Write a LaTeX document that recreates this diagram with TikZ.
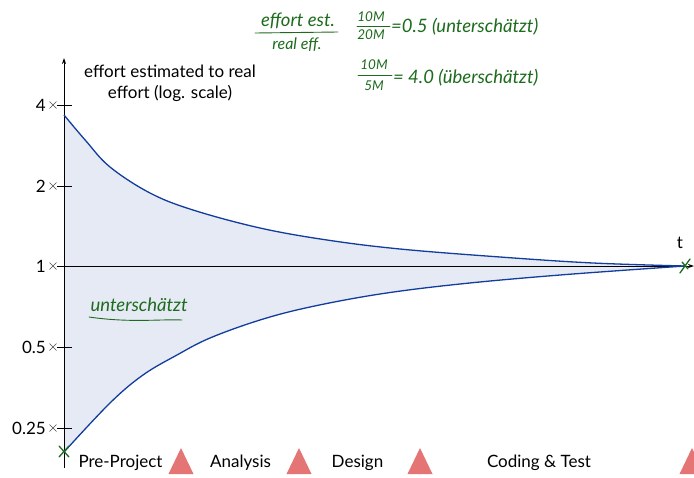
\documentclass[tikz,border=0pt]{standalone}
\usepackage{fontspec}
\setmainfont{Lato}
\usetikzlibrary{arrows.meta}
\definecolor{curveblue}{HTML}{123D9C}
\definecolor{areafill}{HTML}{E6EAF5}
\definecolor{hand}{HTML}{1D6B1D}
\definecolor{phasered}{HTML}{E57575}
\begin{document}
\begin{tikzpicture}[x=1pt,y=-1pt,
  lbl/.style={font=\fontsize{17}{21}\selectfont, inner sep=0pt},
  phase/.style={font=\fontsize{17}{20}\selectfont, inner sep=0pt, anchor=base},
  handtxt/.style={font=\itshape\fontsize{18.5}{20}\selectfont, text=hand, inner sep=0pt},
  handsmall/.style={font=\itshape\fontsize{13.5}{15}\selectfont, text=hand, inner sep=0pt},
  handmid/.style={font=\itshape\fontsize{16}{17}\selectfont, text=hand, inner sep=0pt},
  handline/.style={draw=hand, line width=0.9pt, line cap=round},
  axisline/.style={draw=black, line width=0.8pt},
  tickline/.style={draw=black, line width=0.7pt},
  crossmark/.style={draw=black!70, line width=0.5pt},
  curve/.style={draw=curveblue, line width=1.3pt},
  phasetri/.style={fill=phasered, draw=none},
  greenx/.style={draw=hand, line width=1.3pt, line cap=round}]
\clip (0,0) rectangle (694,477);
\fill[white] (0,0) rectangle (694,477);

% shaded area between curves
\fill[areafill] plot[smooth, tension=0.6] coordinates {(64,115) (86,141) (110,167) (150,193) (193,210) (260,228) (327,240) (400,249) (500,257) (593,263) (685,266)}
  -- plot[smooth, tension=0.6] coordinates {(685,266) (560,275) (460,284) (380,294) (310,307) (260,320) (210,338) (177,355) (143,375) (110,403) (64,452)} -- cycle;

% axes
\coordinate (yb) at (64,468);
\coordinate (yt) at (64,58);
\coordinate (xl) at (57,266);
\coordinate (xr) at (694,266);
\draw[axisline, -{Stealth[length=6pt,width=4pt]}] (yb) -- (yt);
\draw[axisline, -{Stealth[length=6pt,width=4pt]}] (xl) -- (xr);

% ticks
\foreach \yy/\lab in {105/4, 186/2, 266/1, 347/0.5, 428/0.25}{
  \draw[tickline] (57,\yy) -- (72,\yy);
  \draw[crossmark] (49.5,\yy-3.5) -- (56.5,\yy+3.5) (49.5,\yy+3.5) -- (56.5,\yy-3.5);
  \node[lbl, anchor=east] at (46,\yy) {\lab};
}

% curves
\draw[curve] plot[smooth, tension=0.6] coordinates {(64,115) (86,141) (110,167) (150,193) (193,210) (260,228) (327,240) (400,249) (500,257) (593,263) (685,266)};
\draw[curve] plot[smooth, tension=0.6] coordinates {(685,266) (560,275) (460,284) (380,294) (310,307) (260,320) (210,338) (177,355) (143,375) (110,403) (64,452)};

% axis labels
\node[lbl, align=center] (title) at (170,83) {effort estimated to real\\effort (log. scale)};
\node[lbl] (tlab) at (680,243) {t};

% green marks
\draw[greenx] (59,457) -- (69,446) (59,446) -- (69,457);
\draw[greenx] (680,273) -- (690,259) (682,262) -- (688,269);

% phases
\node[phase] (p1) at (120.5,467) {Pre-Project};
\node[phase] (p2) at (240.5,467) {Analysis};
\node[phase] (p3) at (357.5,467) {Design};
\node[phase] (p4) at (539,467) {Coding \& Test};
\foreach \cx in {181,299,420,692}{
  \fill[phasetri] (\cx-12.5,474) -- (\cx+12.5,474) -- (\cx,448) -- cycle;
}

% handwritten annotations
\node[handtxt] (h1) at (298,21) {effort est.};
\draw[handline] (255,33) -- (338,32);
\node[handmid] (h2) at (297,45) {real eff.};
\node[handsmall] (n1) at (371,17) {10M};
\draw[handline] (357,26) -- (390,26);
\node[handsmall] (d1) at (371,35) {20M};
\node[handtxt, anchor=west] (r1) at (391,27) {=0.5 (unterschätzt)};
\node[handsmall] (n2) at (374,65) {10M};
\draw[handline] (358,75) -- (392,75);
\node[handsmall] (d2) at (374,86) {5M};
\node[handtxt, anchor=west] (r2) at (393,78) {= 4.0 (überschätzt)};
\node[handtxt] (u1) at (139,305) {unterschätzt};
\draw[handline] (89,317) .. controls (130,323) and (160,319) .. (182,320);
\end{tikzpicture}
\end{document}
